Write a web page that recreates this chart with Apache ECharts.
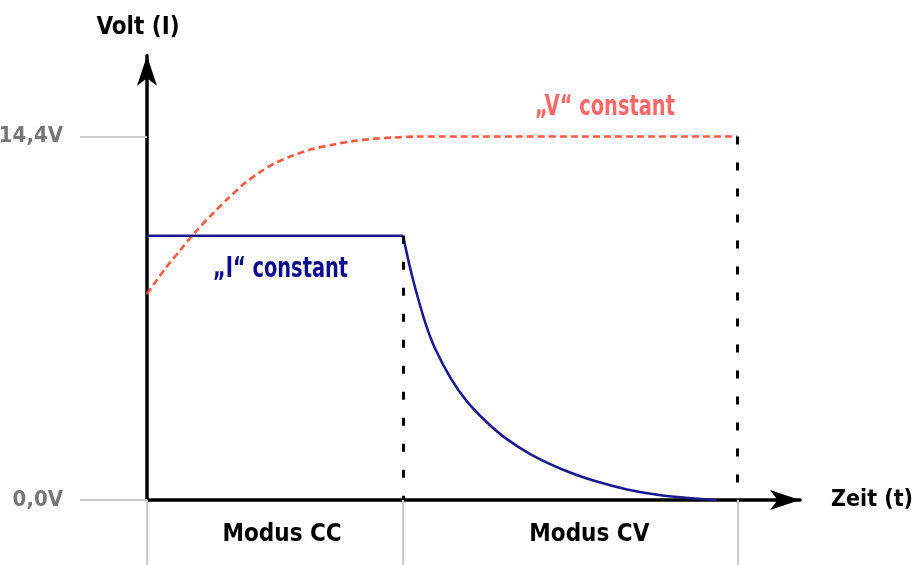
<!DOCTYPE html>
<html><head><meta charset="utf-8">
<script src="https://cdn.jsdelivr.net/npm/echarts@6/dist/echarts.min.js"></script>
<style>html,body{margin:0;padding:0;background:#fff}#c{width:913px;height:565px}</style>
</head><body><div id="c"></div>
<script>
// ---- data ----
const yTickValues = [0, 14.4];
const yTickLabels = ['0,0V', '14,4V'];
const modeBounds = [0, 40, 92.2];
const modeLabelPos = [21.1, 69.1];
const modeLabels = ['Modus CC', 'Modus CV'];

const currentFlatT = [0, 40];
const currentFlatV = [10.47, 10.47];
const currentDecayT = [40, 41, 42, 43.5, 45, 47.5, 50, 53, 56, 60, 65, 70, 75, 80, 85, 89];
const currentDecayV = [10.47, 9.3, 8.3, 7.0, 6.0, 4.8, 3.9, 3.1, 2.45, 1.8, 1.2, 0.75, 0.42, 0.2, 0.07, 0.0];

const voltageT = [0, 2.8, 5.2, 7.5, 10.2, 12.7, 15.3, 17.7, 20.0, 22.8, 25.9, 29.1, 32.2, 35.3, 38.4, 42.2, 92.2];
const voltageV = [8.16, 9.15, 9.9, 10.6, 11.33, 11.96, 12.56, 13.0, 13.35, 13.65, 13.91, 14.08, 14.22, 14.31, 14.36, 14.4, 14.4];

// ---- chart ----
const FONT = '"Liberation Sans Narrow", "DejaVu Sans Condensed", "Roboto", sans-serif';
const pairs = (xs, ys) => xs.map((x, i) => [x, ys[i]]);
const chart = echarts.init(document.getElementById('c'));

const vLines = [
  [{ coord: [modeBounds[1], currentFlatV[1]] }, { coord: [modeBounds[1], 0] }],
  [{ coord: [modeBounds[2], voltageV[voltageV.length - 1]] }, { coord: [modeBounds[2], 0] }]
];

chart.setOption({
  animation: false,
  backgroundColor: '#fff',
  grid: { left: 147, right: 113, top: 55.8, bottom: 65, containLabel: false, outerBoundsMode: 'none' },
  xAxis: {
    type: 'value', min: 0, max: 102,
    name: 'Zeit (t)', nameLocation: 'end', nameGap: 31,
    nameTextStyle: { color: '#000', fontSize: 23, fontWeight: 'bold', fontFamily: FONT },
    axisLine: { show: true, onZero: false, symbol: ['none', 'arrow'], symbolSize: [15, 30],
      lineStyle: { color: '#000', width: 3.5 } },
    axisTick: { show: true, customValues: modeBounds, length: 65, lineStyle: { color: '#cccccc', width: 2 } },
    axisLabel: { customValues: modeLabelPos, formatter: v => modeLabels[modeLabelPos.indexOf(v)] || '',
      margin: 23, color: '#000', fontSize: 24, fontWeight: 'bold', fontFamily: FONT },
    splitLine: { show: false }
  },
  yAxis: {
    type: 'value', min: 0, max: 17.6,
    name: 'Volt (I)', nameLocation: 'end', nameGap: 16,
    nameTextStyle: { color: '#000', fontSize: 24, fontWeight: 'bold', fontFamily: FONT, padding: [0, 18, 0, 0] },
    axisLine: { show: true, onZero: false, symbol: ['none', 'arrow'], symbolSize: [15, 30],
      lineStyle: { color: '#000', width: 3.5 } },
    axisTick: { show: true, customValues: yTickValues, length: 67, lineStyle: { color: '#cccccc', width: 2 } },
    axisLabel: { customValues: yTickValues, formatter: v => yTickLabels[yTickValues.indexOf(v)] || '',
      margin: 84, color: '#777777', fontSize: 22, fontWeight: 'bold', fontFamily: FONT },
    splitLine: { show: false }
  },
  series: [
    {
      name: 'V', type: 'line', data: pairs(voltageT, voltageV), showSymbol: false, smooth: 0.3,
      lineStyle: { color: '#ff5a3f', width: 2.6, type: [7, 4] }, z: 3
    },
    {
      name: 'I flat', type: 'line', data: pairs(currentFlatT, currentFlatV), showSymbol: false,
      lineStyle: { color: '#1b1b8f', width: 2.6 }, z: 4,
      markLine: { silent: true, symbol: ['none', 'none'], label: { show: false },
        lineStyle: { color: '#000', width: 3, type: [8, 18] }, data: vLines }
    },
    {
      name: 'I decay', type: 'line', data: pairs(currentDecayT, currentDecayV), showSymbol: false, smooth: 0.3,
      lineStyle: { color: '#1b1b8f', width: 2.6 }, z: 4
    }
  ],
  graphic: [
    { type: 'text', x: 213, y: 256, scaleX: 0.77, silent: true,
      style: { text: '\u201EI\u201C constant', fill: '#0b0b8e', font: 'bold 28px ' + FONT } },
    { type: 'text', x: 535, y: 94, scaleX: 0.77, silent: true,
      style: { text: '\u201EV\u201C constant', fill: '#ff6666', font: 'bold 28px ' + FONT } }
  ]
});
</script></body></html>
